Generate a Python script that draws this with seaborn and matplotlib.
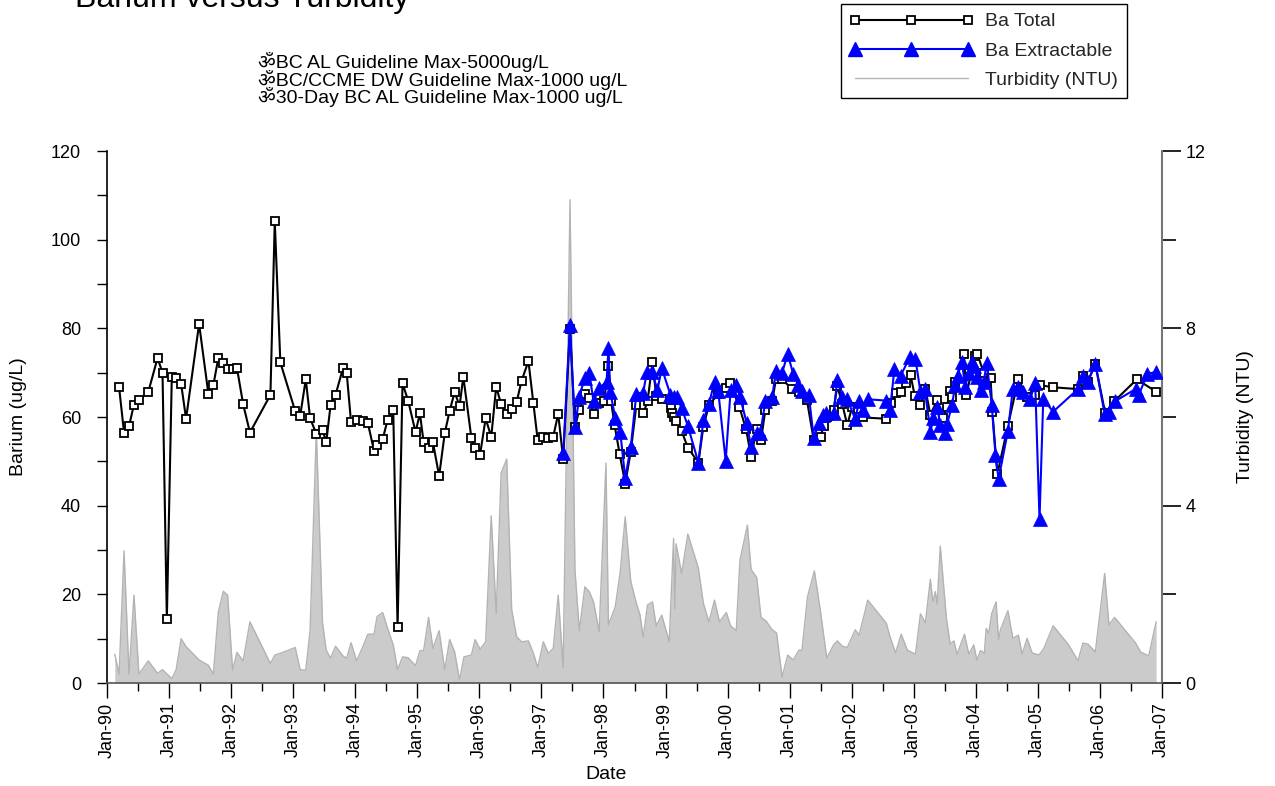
import matplotlib
matplotlib.use("Agg")
import matplotlib.pyplot as plt
from matplotlib.lines import Line2D
from matplotlib.ticker import MultipleLocator, FixedLocator
import seaborn as sns

# ---------------- data (decimal years) ----------------
ba_total_year = [1990.19, 1990.27, 1990.35, 1990.43, 1990.51, 1990.66, 1990.81, 1990.89, 1990.96, 1991.04,
                 1991.11, 1991.19, 1991.27, 1991.48, 1991.63, 1991.71, 1991.79, 1991.87, 1991.94, 1992.02,
                 1992.09, 1992.19, 1992.30, 1992.63, 1992.70, 1992.79, 1993.03, 1993.11, 1993.20, 1993.27,
                 1993.37, 1993.47, 1993.53, 1993.60, 1993.68, 1993.80, 1993.86, 1993.93, 1994.02, 1994.12,
                 1994.20, 1994.30, 1994.35, 1994.44, 1994.52, 1994.61, 1994.68, 1994.76, 1994.85, 1994.97,
                 1995.04, 1995.10, 1995.18, 1995.25, 1995.35, 1995.44, 1995.52, 1995.60, 1995.68, 1995.74,
                 1995.87, 1995.93, 1996.01, 1996.10, 1996.19, 1996.27, 1996.35, 1996.44, 1996.52, 1996.60,
                 1996.68, 1996.79, 1996.87, 1996.94, 1997.03, 1997.11, 1997.19, 1997.27, 1997.35, 1997.46,
                 1997.54, 1997.61, 1997.70, 1997.77, 1997.84, 1997.92, 1998.01, 1998.08, 1998.12, 1998.18,
                 1998.26, 1998.35, 1998.44, 1998.53, 1998.64, 1998.71, 1998.79, 1998.85, 1998.94, 1999.09,
                 1999.11, 1999.13, 1999.17, 1999.26, 1999.36, 1999.53, 1999.61, 1999.70, 1999.85, 1999.97,
                 2000.04, 2000.19, 2000.30, 2000.38, 2000.47, 2000.54, 2000.61, 2000.72, 2000.78, 2000.88,
                 2001.04, 2001.15, 2001.28, 2001.39, 2001.50, 2001.55, 2001.61, 2001.71, 2001.77, 2001.85,
                 2001.93, 2002.01, 2002.10, 2002.19, 2002.56, 2002.64, 2002.72, 2002.80, 2002.88, 2002.95,
                 2003.02, 2003.11, 2003.19, 2003.27, 2003.38, 2003.47, 2003.54, 2003.58, 2003.62, 2003.67,
                 2003.81, 2003.85, 2003.99, 2004.03, 2004.13, 2004.24, 2004.27, 2004.35, 2004.52, 2004.69,
                 2004.83, 2004.96, 2005.03, 2005.25, 2005.65, 2005.73, 2005.81, 2005.93, 2006.09, 2006.23,
                 2006.60, 2006.91]
ba_total = [66.7, 56.5, 57.9, 62.8, 63.9, 65.6, 73.3, 70.0, 14.4, 69.1,
            68.8, 67.5, 59.6, 81.0, 65.2, 67.2, 73.3, 72.1, 70.8, 70.8,
            71.1, 62.9, 56.5, 65.0, 104.1, 72.3, 61.3, 60.3, 68.5, 59.7,
            56.2, 57.1, 54.3, 62.7, 65.0, 71.0, 69.9, 58.8, 59.3, 59.0,
            58.7, 52.4, 53.6, 55.0, 59.4, 61.6, 12.6, 67.6, 63.7, 56.6,
            60.8, 54.3, 53.1, 54.3, 46.7, 56.3, 61.4, 65.6, 62.5, 69.1,
            55.3, 52.9, 51.5, 59.7, 55.5, 66.8, 62.9, 60.6, 61.8, 63.4,
            68.2, 72.6, 63.1, 54.7, 55.6, 55.3, 55.6, 60.7, 50.5, 79.8,
            57.7, 61.6, 65.2, 64.3, 60.6, 63.1, 63.5, 71.6, 63.7, 58.1,
            51.7, 45.0, 52.2, 62.7, 60.8, 63.5, 72.3, 64.8, 64.1, 62.0,
            60.8, 59.9, 59.2, 56.8, 53.1, 49.7, 57.8, 62.7, 65.2, 66.5,
            67.7, 62.3, 57.2, 51.0, 57.2, 54.8, 61.6, 63.5, 68.5, 68.5,
            66.3, 65.7, 63.8, 54.8, 55.6, 58.0, 60.1, 61.6, 67.0, 62.9,
            58.2, 62.3, 61.7, 59.9, 59.6, 63.2, 65.5, 65.7, 67.7, 69.5,
            64.7, 62.6, 66.3, 60.5, 63.8, 59.7, 62.3, 65.9, 64.6, 68.0,
            74.2, 65.0, 73.8, 74.1, 70.0, 68.9, 61.2, 47.1, 58.0, 68.6,
            64.4, 65.0, 67.2, 66.7, 66.3, 69.3, 68.0, 72.0, 60.8, 63.5,
            68.5, 65.7]

ba_ext_year = [1997.35, 1997.46, 1997.54, 1997.61, 1997.70, 1997.77, 1997.84, 1997.93, 1998.05, 1998.08,
               1998.11, 1998.19, 1998.27, 1998.35, 1998.44, 1998.53, 1998.64, 1998.70, 1998.78, 1998.87,
               1998.94, 1999.08, 1999.13, 1999.18, 1999.26, 1999.36, 1999.53, 1999.61, 1999.70, 1999.79,
               1999.85, 1999.97, 2000.05, 2000.14, 2000.20, 2000.31, 2000.38, 2000.47, 2000.53, 2000.61,
               2000.72, 2000.78, 2000.88, 2000.97, 2001.06, 2001.14, 2001.20, 2001.31, 2001.39, 2001.47,
               2001.54, 2001.58, 2001.71, 2001.77, 2001.85, 2001.93, 2002.06, 2002.12, 2002.19, 2002.26,
               2002.56, 2002.62, 2002.69, 2002.79, 2002.94, 2003.03, 2003.11, 2003.18, 2003.27, 2003.32,
               2003.38, 2003.43, 2003.50, 2003.54, 2003.62, 2003.67, 2003.71, 2003.78, 2003.83, 2003.89,
               2003.94, 2003.98, 2004.02, 2004.08, 2004.13, 2004.18, 2004.26, 2004.32, 2004.37, 2004.52,
               2004.60, 2004.69, 2004.77, 2004.88, 2004.96, 2005.03, 2005.09, 2005.25, 2005.65, 2005.73,
               2005.81, 2005.93, 2006.08, 2006.15, 2006.24, 2006.58, 2006.63, 2006.77, 2006.91]
ba_ext = [51.8, 80.8, 57.7, 64.6, 68.9, 70.0, 63.5, 66.5, 68.0, 75.5,
          65.7, 59.7, 56.7, 46.2, 53.3, 65.3, 65.5, 70.2, 70.2, 66.1,
          71.0, 65.0, 64.6, 64.6, 62.0, 58.0, 49.7, 59.3, 62.9, 68.0,
          65.9, 50.1, 66.1, 67.2, 64.6, 58.6, 53.3, 56.5, 56.5, 63.5,
          64.4, 70.4, 70.0, 74.2, 69.7, 67.2, 65.9, 65.0, 55.2, 58.6,
          60.5, 60.8, 61.0, 68.4, 64.4, 64.0, 59.5, 63.5, 61.6, 64.0,
          63.7, 61.6, 70.8, 69.3, 73.5, 73.0, 65.7, 66.3, 56.7, 59.7,
          62.3, 58.2, 56.5, 58.4, 62.7, 67.2, 69.3, 72.5, 66.8, 70.0,
          72.5, 71.4, 69.0, 66.1, 68.0, 72.1, 62.7, 51.4, 46.0, 56.8,
          66.3, 66.7, 65.7, 64.0, 67.7, 36.9, 64.0, 61.2, 66.3, 69.3,
          68.0, 72.0, 60.7, 61.2, 63.5, 66.3, 65.0, 69.7, 70.2]

turb_year = [1990.12, 1990.19, 1990.27, 1990.35, 1990.43, 1990.51, 1990.66, 1990.81, 1990.89, 1991.04,
             1991.11, 1991.19, 1991.27, 1991.48, 1991.63, 1991.71, 1991.79, 1991.87, 1991.94, 1992.02,
             1992.09, 1992.19, 1992.30, 1992.63, 1992.70, 1992.79, 1993.03, 1993.11, 1993.20, 1993.27,
             1993.37, 1993.47, 1993.53, 1993.60, 1993.68, 1993.80, 1993.86, 1993.93, 1994.02, 1994.12,
             1994.20, 1994.30, 1994.35, 1994.44, 1994.52, 1994.61, 1994.68, 1994.76, 1994.85, 1994.97,
             1995.04, 1995.10, 1995.18, 1995.25, 1995.35, 1995.44, 1995.52, 1995.60, 1995.68, 1995.75,
             1995.87, 1995.93, 1996.01, 1996.10, 1996.19, 1996.27, 1996.35, 1996.44, 1996.52, 1996.60,
             1996.68, 1996.79, 1996.87, 1996.94, 1997.03, 1997.11, 1997.19, 1997.27, 1997.35, 1997.46,
             1997.54, 1997.61, 1997.70, 1997.77, 1997.84, 1997.93, 1998.04, 1998.08, 1998.19, 1998.27,
             1998.35, 1998.44, 1998.53, 1998.59, 1998.64, 1998.71, 1998.79, 1998.85, 1998.94, 1999.06,
             1999.13, 1999.15, 1999.17, 1999.26, 1999.36, 1999.53, 1999.61, 1999.70, 1999.79, 1999.87,
             1999.98, 2000.05, 2000.14, 2000.20, 2000.32, 2000.38, 2000.47, 2000.54, 2000.62, 2000.72,
             2000.79, 2000.88, 2000.97, 2001.06, 2001.15, 2001.20, 2001.29, 2001.40, 2001.50, 2001.60,
             2001.71, 2001.77, 2001.85, 2001.93, 2002.06, 2002.12, 2002.19, 2002.26, 2002.56, 2002.62,
             2002.71, 2002.80, 2002.90, 2003.03, 2003.11, 2003.19, 2003.27, 2003.31, 2003.35, 2003.38,
             2003.43, 2003.53, 2003.59, 2003.65, 2003.70, 2003.82, 2003.89, 2003.97, 2004.02, 2004.08,
             2004.14, 2004.17, 2004.21, 2004.26, 2004.33, 2004.37, 2004.40, 2004.52, 2004.60, 2004.69,
             2004.75, 2004.83, 2004.91, 2005.02, 2005.10, 2005.25, 2005.50, 2005.65, 2005.73, 2005.81,
             2005.93, 2006.08, 2006.15, 2006.24, 2006.58, 2006.66, 2006.79, 2006.91]
turb = [0.65, 0.20, 2.98, 0.20, 1.98, 0.20, 0.50, 0.22, 0.30, 0.10,
        0.30, 1.00, 0.82, 0.52, 0.40, 0.20, 1.60, 2.07, 1.98, 0.29,
        0.69, 0.50, 1.38, 0.44, 0.63, 0.67, 0.80, 0.30, 0.29, 1.20,
        5.70, 1.35, 0.74, 0.56, 0.83, 0.61, 0.56, 0.91, 0.50, 0.82,
        1.10, 1.10, 1.50, 1.59, 1.23, 0.86, 0.30, 0.59, 0.57, 0.39,
        0.73, 0.73, 1.48, 0.78, 1.18, 0.30, 0.98, 0.70, 0.07, 0.59,
        0.63, 0.98, 0.76, 0.93, 3.77, 1.57, 4.74, 5.05, 1.65, 1.04,
        0.93, 0.95, 0.67, 0.35, 0.93, 0.67, 0.78, 1.98, 0.35, 10.90,
        2.55, 1.18, 2.17, 2.06, 1.83, 1.16, 4.96, 1.31, 1.72, 2.51,
        3.75, 2.29, 1.80, 1.53, 1.03, 1.76, 1.83, 1.29, 1.53, 0.93,
        3.26, 1.68, 3.14, 2.47, 3.36, 2.59, 1.80, 1.38, 1.87, 1.38,
        1.59, 1.29, 1.18, 2.77, 3.56, 2.56, 2.38, 1.48, 1.40, 1.20,
        1.13, 0.14, 0.63, 0.52, 0.74, 0.74, 1.95, 2.53, 1.60, 0.56,
        0.86, 0.95, 0.83, 0.80, 1.20, 1.08, 1.46, 1.87, 1.35, 1.04,
        0.68, 1.10, 0.74, 0.65, 1.56, 1.36, 2.34, 1.83, 2.06, 1.78,
        3.09, 1.44, 0.88, 0.95, 0.65, 1.10, 0.65, 0.86, 0.52, 0.73,
        0.67, 1.23, 1.12, 1.57, 1.83, 0.97, 1.20, 1.63, 1.01, 1.08,
        0.65, 1.01, 0.68, 0.63, 0.78, 1.29, 0.86, 0.50, 0.90, 0.88,
        0.70, 2.47, 1.31, 1.48, 0.90, 0.70, 0.61, 1.38]

year_ticks = list(range(1990, 2008))
year_labels = ["Jan-%02d" % (y % 100) for y in year_ticks]
series_labels = ["Ba Total", "Ba Extractable", "Turbidity (NTU)"]
guideline_lines = ["\u0950BC AL Guideline Max-5000ug/L",
                   "\u0950BC/CCME DW Guideline Max-1000 ug/L",
                   "\u095030-Day BC AL Guideline Max-1000 ug/L"]
title_text = "Barium versus Turbidity"

# ---------------- style ----------------
sns.set_theme(style="ticks")
plt.rcParams['font.family'] = ['Liberation Sans', 'DejaVu Sans', 'Noto Sans']

W, H = 1275, 786
fig = plt.figure(figsize=(W / 100, H / 100), dpi=100)
ax = fig.add_axes([107.3 / W, 1 - 683 / H, (1161.7 - 107.3) / W, (683 - 151) / H])
ax2 = ax.twinx()
ax.set_zorder(ax2.get_zorder() + 1)
ax.patch.set_visible(False)

# turbidity (right axis)
ax2.fill_between(turb_year, turb, 0, color='#cbcbcb', lw=0)
sns.lineplot(x=turb_year, y=turb, ax=ax2, color='#b3b3b3', lw=1.0,
             estimator=None, sort=False)

# barium (left axis)
sns.lineplot(x=ba_total_year, y=ba_total, ax=ax, color='black', lw=1.5,
             marker='s', markersize=5.5, mfc='white', mec='black', mew=1.3,
             estimator=None, sort=False)
sns.lineplot(x=ba_ext_year, y=ba_ext, ax=ax, color='#0000ff', lw=1.5,
             marker='^', markersize=9.5, mec='#0000ff', mew=0.5,
             estimator=None, sort=False)

# axes limits & ticks
ax.set_xlim(1990, 2007)
ax.set_ylim(0, 120)
ax2.set_ylim(0, 12)
ax.xaxis.set_major_locator(FixedLocator(year_ticks))
ax.set_xticklabels(year_labels, rotation=90, fontsize=13)
ax.xaxis.set_minor_locator(MultipleLocator(0.5))
ax.yaxis.set_major_locator(MultipleLocator(20))
ax.yaxis.set_minor_locator(MultipleLocator(10))
ax2.yaxis.set_major_locator(MultipleLocator(4))
ax2.yaxis.set_minor_locator(MultipleLocator(2))

ax.tick_params(axis='x', which='major', direction='out', length=11, width=1, colors='black', labelsize=13, pad=3)
ax.tick_params(axis='x', which='minor', direction='out', length=6, width=1, colors='black')
ax.tick_params(axis='y', which='both', direction='out', length=7, width=1, colors='black', labelsize=13, pad=12)
ax.tick_params(axis='y', right=False, which='both')
ax2.tick_params(axis='y', which='major', direction='out', length=14, width=1.2, colors='black', labelsize=13, pad=3)
ax2.tick_params(axis='y', which='minor', direction='out', length=10, width=1.2, colors='black')

for s in ['top', 'right']:
    ax.spines[s].set_visible(False)
for s in ['top', 'left', 'bottom']:
    ax2.spines[s].set_visible(False)
ax.spines['left'].set_color('black')
ax.spines['left'].set_linewidth(1.2)
ax.spines['bottom'].set_color('#555555')
ax.spines['bottom'].set_linewidth(1.2)
ax2.spines['right'].set_color('#777777')
ax2.spines['right'].set_linewidth(1.5)

ax.set_xlabel("Date", fontsize=14, color='black')
ax.xaxis.set_label_coords((606 - 107.3) / 1054.4, (683 - 766) / 532)
ax.set_ylabel("Barium (ug/L)", fontsize=14, color='black')
ax.yaxis.set_label_coords((27 - 107.3) / 1054.4, 0.5)
ax2.set_ylabel("Turbidity (NTU)", fontsize=14, color='black')
ax2.yaxis.set_label_coords((1237 - 107.3) / 1054.4, 0.5)

# title and guideline notes
fig.text(75 / W, 1 - 7 / H, title_text, fontsize=23, ha='left', va='baseline', color='black')
for i, line in enumerate(guideline_lines):
    fig.text(258 / W, 1 - (62 + 17.5 * i) / H, line, fontsize=14, ha='left', va='center',
             color='black', family=['Liberation Sans', 'DejaVu Sans', 'Noto Sans', 'Noto Sans CJK SC'])

# legend
handles = [Line2D([], [], color='black', lw=1.5, marker='s', markersize=5.5, mfc='white', mec='black', mew=1.3),
           Line2D([], [], color='#0000ff', lw=1.5, marker='^', markersize=10, mec='#0000ff'),
           Line2D([], [], color='#b3b3b3', lw=1.0)]
leg = fig.legend(handles, series_labels, loc='upper right', bbox_to_anchor=(1127 / W, 1 - 4 / H),
                 numpoints=3, frameon=True, fancybox=False, edgecolor='black', framealpha=1,
                 fontsize=14, handlelength=6.4, handletextpad=0.6, borderpad=0.45, labelspacing=0.6,
                 borderaxespad=0)
leg.get_frame().set_linewidth(1.0)

fig.savefig("out.png", dpi=100)
